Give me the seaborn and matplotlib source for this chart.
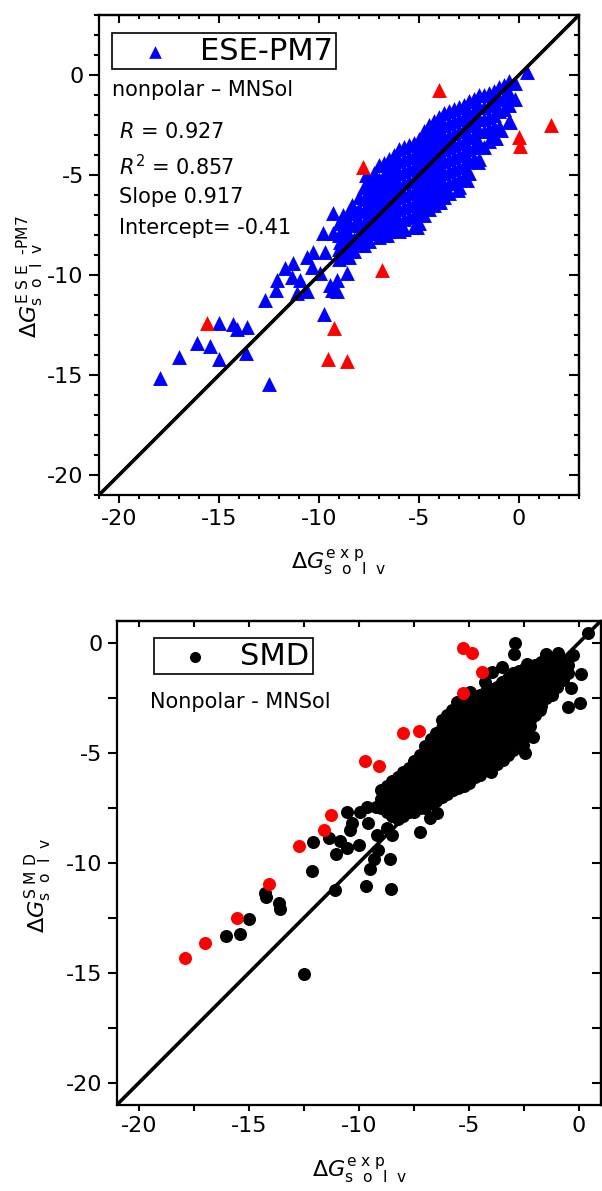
import matplotlib
matplotlib.use('Agg')
import matplotlib.pyplot as plt
from matplotlib.ticker import MultipleLocator, NullFormatter
import pandas as pd
import seaborn as sns

sns.set_theme(style="ticks")
plt.rcParams['font.family'] = ['DejaVu Sans']
plt.rcParams['axes.unicode_minus'] = False
plt.rcParams['mathtext.fontset'] = 'dejavusans'
for key in ('text.color', 'axes.labelcolor', 'xtick.color', 'ytick.color', 'axes.edgecolor'):
    plt.rcParams[key] = 'black'

# --- ESE-PM7 (top panel): dense band, read column by column (exp value -> calc values) ---
ese_col_exp = [-9.0, -8.75, -8.5, -8.25, -8.0, -7.75, -7.5, -7.25, -7.0, -6.75,
               -6.5, -6.25, -6.0, -5.75, -5.5, -5.25, -5.0, -4.75, -4.5, -4.25,
               -4.0, -3.75, -3.5, -3.25, -3.0, -2.75, -2.5, -2.25, -2.0, -1.75,
               -1.5, -1.25, -1.0, -0.75, -0.5, -0.2]
ese_col_calc = [
    [-7.4, -8.0, -8.7, -9.2],
    [-7.2, -7.8, -8.4, -9.0],
    [-6.8, -7.4, -8.0, -8.6, -9.1],
    [-6.9, -7.5, -8.2, -8.8],
    [-6.1, -6.7, -7.3, -7.9, -8.5],
    [-5.6, -6.2, -6.8, -7.4, -8.0, -8.5],
    [-5.3, -5.9, -6.5, -7.1, -7.7, -8.3],
    [-4.9, -5.5, -6.1, -6.7, -7.3, -7.9],
    [-4.5, -5.2, -5.8, -6.4, -7.0, -7.6, -8.1],
    [-4.4, -5.0, -5.6, -6.2, -6.8, -7.4, -8.0],
    [-4.2, -4.8, -5.4, -6.0, -6.6, -7.2, -7.8],
    [-4.0, -4.6, -5.2, -5.8, -6.4, -7.0, -7.6],
    [-3.7, -4.3, -4.9, -5.5, -6.1, -6.7, -7.3, -7.8],
    [-3.6, -4.2, -4.8, -5.4, -6.0, -6.6, -7.2, -7.7],
    [-3.5, -4.1, -4.7, -5.3, -5.9, -6.5, -7.1],
    [-3.4, -4.0, -4.6, -5.2, -5.8, -6.4, -7.0, -7.6],
    [-3.2, -3.8, -4.4, -5.0, -5.6, -6.2, -6.8, -7.4],
    [-2.8, -3.4, -4.0, -4.6, -5.2, -5.8, -6.4, -7.0],
    [-2.5, -3.1, -3.7, -4.3, -4.9, -5.5, -6.1, -6.7],
    [-2.3, -2.9, -3.5, -4.1, -4.7, -5.3, -5.9, -6.5],
    [-2.1, -2.7, -3.3, -3.9, -4.5, -5.1, -5.7, -6.3],
    [-1.9, -2.5, -3.1, -3.7, -4.3, -4.9, -5.5, -6.1],
    [-1.8, -2.4, -3.0, -3.6, -4.2, -4.8, -5.4, -5.9],
    [-1.7, -2.3, -2.9, -3.5, -4.1, -4.7, -5.3],
    [-1.6, -2.2, -2.8, -3.4, -4.0, -4.6, -5.2, -5.6],
    [-1.5, -2.1, -2.7, -3.3, -3.9, -4.5, -5.1],
    [-1.3, -1.9, -2.5, -3.1, -3.7, -4.3, -4.9],
    [-1.2, -1.8, -2.4, -3.0, -3.6, -4.2],
    [-1.0, -1.6, -2.2, -2.8, -3.4, -4.2],
    [-1.0, -1.6, -2.2, -2.8, -3.6],
    [-0.9, -1.5, -2.1, -2.7, -3.3],
    [-0.8, -1.4, -2.0, -2.6, -3.1],
    [-0.6, -1.2, -1.8, -2.6],
    [-0.5, -1.1, -1.7],
    [-0.3, -0.9, -1.5, -2.3],
    [-0.4, -1.2],
]
# scattered blue points outside the band
ese_exp_extra = [-17.95, -17.0, -16.1, -15.45, -15.0, -15.0, -14.3, -14.1, -13.6, -13.65,
                 -12.5, -12.7, -12.15, -12.1, -11.1, -10.6, -9.75, -9.1, -9.45, -11.7,
                 -11.3, -11.35, -10.95, -10.6, -10.35, -10.3, -9.95, -9.8, -9.7, -9.3,
                 -9.3, -9.1, -9.35, -8.8, -8.6, -8.35, -8.95, -7.65, 0.4, -0.45,
                 -0.9, -1.15, -2.05, -2.6, -3.05, -3.95, -5.1, -6.1, -6.6]
ese_calc_extra = [-15.15, -14.1, -13.4, -13.55, -14.2, -12.4, -12.45, -12.7, -12.6, -13.9,
                  -15.45, -11.25, -10.75, -10.25, -10.9, -10.8, -11.95, -10.8, -10.5, -9.65,
                  -9.4, -10.1, -10.25, -9.1, -9.6, -8.85, -9.9, -7.9, -8.85, -6.9,
                  -7.9, -10.25, -10.75, -7.0, -9.9, -6.5, -8.35, -5.0, 0.15, -2.35,
                  -2.75, -3.15, -4.35, -5.25, -5.75, -6.35, -7.6, -7.75, -8.0]
# red (flagged) points
ese_exp_out = [-4.0, 1.6, 0.0, 0.05, -7.8, -6.85, -15.6, -9.25, -9.55, -8.6]
ese_calc_out = [-0.75, -2.5, -3.1, -3.55, -4.6, -9.75, -12.4, -12.65, -14.2, -14.3]

# --- SMD (bottom panel) ---
smd_col_exp = [-9.0, -8.75, -8.5, -8.25, -8.0, -7.75, -7.5, -7.25, -7.0, -6.75,
               -6.5, -6.25, -6.0, -5.75, -5.5, -5.25, -5.0, -4.75, -4.5, -4.25,
               -4.0, -3.75, -3.5, -3.25, -3.0, -2.75, -2.5, -2.25, -2.0, -1.75,
               -1.5, -1.25, -1.0, -0.75, -0.5]
smd_col_calc = [
    [-6.7, -7.1, -7.5],
    [-6.5, -6.9, -7.3, -7.7],
    [-6.3, -6.7, -7.1, -7.5, -7.9],
    [-6.1, -6.5, -6.9, -7.3, -7.7, -8.0],
    [-5.9, -6.3, -6.7, -7.1, -7.5, -7.9],
    [-5.7, -6.1, -6.5, -6.9, -7.3, -7.7],
    [-5.4, -5.8, -6.2, -6.6, -7.0, -7.4, -7.7],
    [-5.1, -5.5, -5.9, -6.3, -6.7, -7.1, -7.5],
    [-4.7, -5.1, -5.5, -5.9, -6.3, -6.7, -7.1, -7.5],
    [-4.4, -4.8, -5.2, -5.6, -6.0, -6.4, -6.8, -7.3],
    [-4.1, -4.5, -4.9, -5.3, -5.7, -6.1, -6.5, -6.9, -7.2],
    [-3.5, -3.9, -4.3, -4.7, -5.1, -5.5, -5.9, -6.3, -6.7, -7.0],
    [-3.3, -3.7, -4.1, -4.5, -4.9, -5.3, -5.7, -6.1, -6.5, -6.9],
    [-3.1, -3.5, -3.9, -4.3, -4.7, -5.1, -5.5, -5.9, -6.3, -6.7],
    [-2.8, -3.2, -3.6, -4.0, -4.4, -4.8, -5.2, -5.6, -6.0, -6.4, -6.6],
    [-2.7, -3.1, -3.5, -3.9, -4.3, -4.7, -5.1, -5.5, -5.9, -6.3, -6.5],
    [-2.6, -3.0, -3.4, -3.8, -4.2, -4.6, -5.0, -5.4, -5.8, -6.2, -6.4],
    [-2.5, -2.9, -3.3, -3.7, -4.1, -4.5, -4.9, -5.3, -5.7, -6.1],
    [-2.4, -2.8, -3.2, -3.6, -4.0, -4.4, -4.8, -5.2, -5.6, -6.0],
    [-2.2, -2.6, -3.0, -3.4, -3.8, -4.2, -4.6, -5.0, -5.4, -5.8],
    [-2.1, -2.5, -2.9, -3.3, -3.7, -4.1, -4.5, -4.9, -5.3, -5.7, -5.9],
    [-2.0, -2.4, -2.8, -3.2, -3.6, -4.0, -4.4, -4.8, -5.2, -5.5],
    [-1.8, -2.2, -2.6, -3.0, -3.4, -3.8, -4.2, -4.6, -5.0, -5.3],
    [-1.6, -2.0, -2.4, -2.8, -3.2, -3.6, -4.0, -4.4, -4.8, -5.1],
    [-1.4, -1.8, -2.2, -2.6, -3.0, -3.4, -3.8, -4.2, -4.6, -4.9],
    [-1.3, -1.7, -2.1, -2.5, -2.9, -3.3, -3.7, -4.1, -4.5],
    [-1.2, -1.6, -2.0, -2.4, -2.8, -3.2, -3.6, -4.0, -4.3],
    [-1.1, -1.5, -1.9, -2.3, -2.7, -3.1, -3.5, -3.8],
    [-1.0, -1.4, -1.8, -2.2, -2.6, -3.0, -3.3],
    [-0.9, -1.3, -1.7, -2.1, -2.5, -2.9],
    [-0.9, -1.3, -1.7, -2.1, -2.5],
    [-0.8, -1.2, -1.6, -2.0, -2.4],
    [-0.8, -1.2, -1.6, -2.0],
    [-0.9, -1.3, -1.7],
    [-1.0, -1.4],
]
smd_exp_extra = [0.42, -2.91, -2.94, -1.51, -0.94, -0.26, 0.09, 0.05, -0.51, -0.38,
                 -0.79, -2.38, -3.51, -3.97, -4.27, -4.95, -5.56, -5.79, -6.62, -2.08,
                 -2.53, -2.45, -3.44, -1.77, -2.08, -7.23, -6.77, -6.47, -12.08, -12.15,
                 -11.05, -11.09, -11.35, -10.86, -10.56, -10.0, -10.41, -10.33, -10.56, -9.95,
                 -9.58, -9.65, -9.23, -9.2, -9.12, -9.32, -9.5, -8.59, -9.7, -8.56,
                 -8.74, -8.51, -8.9, -14.27, -14.24, -13.64, -13.59, -15.0, -16.06, -15.41,
                 -12.5]
smd_calc_extra = [0.43, -0.03, -0.53, -0.51, -0.48, -0.56, -1.44, -2.76, -2.94, -2.05,
                  -1.7, -0.97, -1.09, -1.32, -1.77, -2.23, -2.68, -3.06, -4.42, -4.27,
                  -4.65, -5.03, -5.33, -3.06, -2.6, -8.59, -7.98, -7.75, -9.07, -10.36,
                  -9.6, -11.24, -8.86, -9.01, -9.35, -9.2, -8.51, -8.21, -7.71, -7.68,
                  -8.21, -7.48, -7.45, -8.74, -9.42, -9.85, -10.3, -9.83, -11.06, -11.21,
                  -8.44, -8.74, -6.7, -11.39, -11.57, -11.85, -12.12, -12.57, -13.32, -13.24,
                  -15.07]
smd_exp_out = [-5.26, -4.88, -4.42, -5.29, -8.0, -7.26, -9.74, -9.08, -11.28, -11.61,
               -12.71, -14.09, -15.54, -16.98, -17.9]
smd_calc_out = [-0.25, -0.48, -1.32, -2.27, -4.12, -4.0, -5.38, -5.59, -7.83, -8.51,
                -9.23, -10.95, -12.53, -13.64, -14.32]


def build(col_exp, col_calc, extra_exp, extra_calc):
    xs = [x for x, ys in zip(col_exp, col_calc) for _ in ys] + list(extra_exp)
    ys = [y for ys in col_calc for y in ys] + list(extra_calc)
    return pd.DataFrame({'exp': xs, 'calc': ys})


def style_axes(ax, lo, hi, step, minor_step, maj_len, min_len, x_len_scale=1.0):
    ax.set_xlim(lo, hi)
    ax.set_ylim(lo, hi)
    for axis in (ax.xaxis, ax.yaxis):
        axis.set_major_locator(MultipleLocator(step))
        axis.set_minor_locator(MultipleLocator(minor_step))
    ax.tick_params(which='both', direction='out', width=1.5, colors='black',
                   labelsize=16, pad=4, top=False, right=False)
    ax.tick_params(axis='y', which='major', length=maj_len)
    ax.tick_params(axis='y', which='minor', length=min_len)
    ax.tick_params(axis='x', which='major', length=maj_len * x_len_scale)
    ax.tick_params(axis='x', which='minor', length=min_len * x_len_scale)
    for sp in ax.spines.values():
        sp.set_linewidth(1.6)
        sp.set_color('black')
    # mirrored ticks pointing inward on top and right
    sx = ax.secondary_xaxis('top')
    sy = ax.secondary_yaxis('right')
    for sec, axis in ((sx, sx.xaxis), (sy, sy.yaxis)):
        axis.set_major_locator(MultipleLocator(step))
        axis.set_minor_locator(MultipleLocator(minor_step))
        axis.set_major_formatter(NullFormatter())
        sec.tick_params(which='both', direction='in', width=1.5, colors='black')
        for sp in sec.spines.values():
            sp.set_linewidth(1.6)
    sy.tick_params(which='major', length=maj_len)
    sy.tick_params(which='minor', length=min_len)
    sx.tick_params(which='major', length=maj_len * x_len_scale)
    sx.tick_params(which='minor', length=min_len * x_len_scale)


ese_df = build(ese_col_exp, ese_col_calc, ese_exp_extra, ese_calc_extra)
ese_out = pd.DataFrame({'exp': ese_exp_out, 'calc': ese_calc_out})
smd_df = build(smd_col_exp, smd_col_calc, smd_exp_extra, smd_calc_extra)
smd_out = pd.DataFrame({'exp': smd_exp_out, 'calc': smd_calc_out})

fig = plt.figure(figsize=(6.02, 11.91), dpi=100)
fig.patch.set_facecolor('white')
ax1 = fig.add_axes([0.1645, 0.5844, 0.7973, 0.4030])
ax2 = fig.add_axes([0.1944, 0.0725, 0.8040, 0.4064])

# --- top panel ---
sns.scatterplot(data=ese_df, x='exp', y='calc', marker='^', color='#0000ff', s=115,
                linewidth=0, ax=ax1, label='ESE-PM7', zorder=2)
sns.scatterplot(data=ese_out, x='exp', y='calc', marker='^', color='#ff0000', s=115,
                linewidth=0, ax=ax1, zorder=2)
ax1.axline((0, 0), slope=1, color='black', lw=2.6, zorder=3)
style_axes(ax1, -21, 3, 5, 1, 7, 3.5, x_len_scale=0.85)
leg = ax1.legend(loc='upper left', bbox_to_anchor=(0.027, 0.9625), borderaxespad=0,
                 fontsize=22, frameon=True, fancybox=False, edgecolor='black',
                 framealpha=1, borderpad=0.12, handlelength=2.6, handletextpad=0.15,
                 markerscale=0.85)
leg.get_frame().set_linewidth(1.2)
ax1.text(-20.35, -0.75, 'nonpolar – MNSol', fontsize=15, va='center')
ax1.text(-20.0, -2.85, '$R$ = 0.927', fontsize=15, va='center')
ax1.text(-20.0, -4.6, '$R^2$ = 0.857', fontsize=15, va='center')
ax1.text(-20.0, -6.1, 'Slope 0.917', fontsize=15, va='center')
ax1.text(-20.0, -7.65, 'Intercept= -0.41', fontsize=15, va='center')
ax1.set_xlabel(r'$\Delta G^{\mathrm{e\ x\ p}}_{\mathrm{s\ \ o\ \ l\ \ v}}$', fontsize=16)
ax1.set_ylabel(r'$\Delta G^{\mathrm{E\ S\ E\ \ }\text{-PM7}}_{\mathrm{s\ \ o\ \ l\ \ v}}$', fontsize=16)
ax1.xaxis.set_label_coords(0.5, -0.11)
ax1.yaxis.set_label_coords(-0.11, 0.454)

# --- bottom panel ---
sns.scatterplot(data=smd_df, x='exp', y='calc', marker='o', color='black', s=88,
                linewidth=0, ax=ax2, label='SMD', zorder=2)
sns.scatterplot(data=smd_out, x='exp', y='calc', marker='o', color='#ff0000', s=88,
                linewidth=0, ax=ax2, zorder=2)
ax2.axline((0, 0), slope=1, color='black', lw=2.6, zorder=3)
style_axes(ax2, -21, 1, 5, 2.5, 6.5, 6.5, x_len_scale=0.65)
leg2 = ax2.legend(loc='upper left', bbox_to_anchor=(0.0756, 0.964), borderaxespad=0,
                  fontsize=22, frameon=True, fancybox=False, edgecolor='black',
                  framealpha=1, borderpad=0.12, handlelength=2.5, handletextpad=0.22,
                  markerscale=0.85)
leg2.get_frame().set_linewidth(1.2)
ax2.text(-19.5, -2.68, 'Nonpolar - MNSol', fontsize=15, va='center')
ax2.set_xlabel(r'$\Delta G^{\mathrm{e\ x\ p}}_{\mathrm{s\ \ o\ \ l\ \ v}}$', fontsize=16)
ax2.set_ylabel(r'$\Delta G^{\mathrm{S\ M\ D}}_{\mathrm{s\ \ o\ \ l\ \ v}}$', fontsize=16)
ax2.xaxis.set_label_coords(0.502, -0.106)
ax2.yaxis.set_label_coords(-0.13, 0.454)

fig.savefig('out.png', dpi=100, facecolor='white')
